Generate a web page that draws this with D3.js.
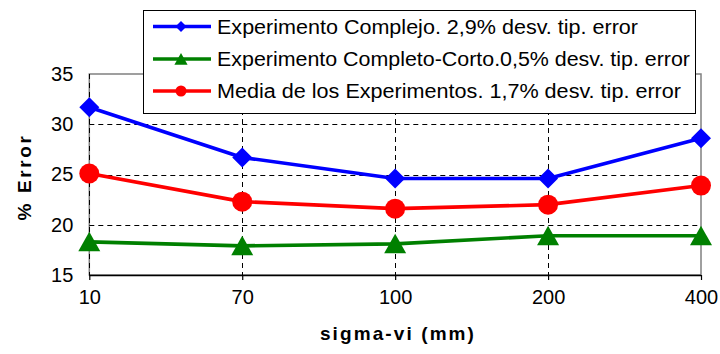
<!DOCTYPE html>
<html>
<head>
<meta charset="utf-8">
<script src="https://cdn.jsdelivr.net/npm/d3@7"></script>
<style>
  html, body { margin: 0; padding: 0; background: #fff; }
  svg { display: block; font-family: "Liberation Sans", Arial, sans-serif; }
</style>
</head>
<body>
<svg id="chart" width="720" height="354"></svg>
<script>
// sigma-vi categories (mm)
const categories = ["10", "70", "100", "200", "400"];

// % error per experiment
const complejo = [31.7, 26.7, 24.6, 24.6, 28.6];
const completoCorto = [18.3, 17.9, 18.1, 18.9, 18.9];
const media = [25.1, 22.3, 21.6, 22.0, 23.9];

const seriesNames = [
  "Experimento Complejo. 2,9% desv. tip. error",
  "Experimento Completo-Corto.0,5% desv. tip. error",
  "Media de los Experimentos. 1,7% desv. tip. error"
];

const yTicks = [15, 20, 25, 30, 35];
const yGrid = [20, 25, 30];

const series = [
  { name: seriesNames[0], values: complejo, color: "#0000ff", marker: "diamond" },
  { name: seriesNames[1], values: completoCorto, color: "#008000", marker: "triangle" },
  { name: seriesNames[2], values: media, color: "#ff0000", marker: "circle" }
];

const svg = d3.select("#chart");
const plotLeft = 89.3, plotRight = 701, plotTop = 74, plotBottom = 275;

const x = d3.scalePoint().domain(categories).range([plotLeft, plotRight]).padding(0);
const y = d3.scaleLinear().domain([15, 35]).range([plotBottom, plotTop]);

// plot area border
svg.append("rect")
  .attr("x", plotLeft).attr("y", plotTop)
  .attr("width", plotRight - plotLeft).attr("height", plotBottom - plotTop)
  .attr("fill", "none").attr("stroke", "#808080").attr("stroke-width", 1.5);

// dashed gridlines
svg.append("g").selectAll("line").data(yGrid).join("line")
  .attr("x1", plotLeft).attr("x2", plotRight)
  .attr("y1", d => Math.round(y(d)) + 0.5).attr("y2", d => Math.round(y(d)) + 0.5)
  .attr("stroke", "#000").attr("stroke-width", 1).attr("stroke-dasharray", "5,4");

svg.append("g").selectAll("line").data(categories.slice(0, -1)).join("line")
  .attr("x1", d => Math.round(x(d)) + 0.5).attr("x2", d => Math.round(x(d)) + 0.5)
  .attr("y1", plotTop).attr("y2", plotBottom)
  .attr("stroke", "#000").attr("stroke-width", 1).attr("stroke-dasharray", "5,4");

// x axis
const xAxis = svg.append("g")
  .attr("transform", `translate(0,${plotBottom})`)
  .call(d3.axisBottom(x).tickSize(5).tickPadding(10));
xAxis.select(".domain").attr("stroke", "#000").attr("stroke-width", 1.5).attr("d", `M${plotLeft},0.5H${plotRight}`);
xAxis.selectAll(".tick line").attr("stroke", "#000").attr("stroke-width", 1.2);
xAxis.selectAll(".tick text")
  .attr("font-size", 20).attr("font-family", "Liberation Sans, Arial, sans-serif")
  .attr("fill", "#000");

// y axis labels
const yAxis = svg.append("g")
  .attr("transform", `translate(${plotLeft},0)`)
  .call(d3.axisLeft(y).tickValues(yTicks).tickSize(0).tickPadding(16));
yAxis.select(".domain").remove();
yAxis.selectAll(".tick text")
  .attr("font-size", 20).attr("font-family", "Liberation Sans, Arial, sans-serif")
  .attr("fill", "#000");

// axis titles
svg.append("text")
  .attr("transform", "translate(31,177) rotate(-90)")
  .attr("text-anchor", "middle")
  .attr("font-size", 19).attr("font-weight", "bold")
  .attr("letter-spacing", 2.6)
  .text("% Error");

svg.append("text")
  .attr("x", 398).attr("y", 340)
  .attr("text-anchor", "middle")
  .attr("font-size", 19).attr("font-weight", "bold")
  .attr("letter-spacing", 2.1)
  .text("sigma-vi (mm)");

// marker helper
function drawMarker(g, kind, cx, cy, s, color) {
  if (kind === "diamond") {
    g.append("path").attr("d", `M${cx},${cy - s}L${cx + s},${cy}L${cx},${cy + s}L${cx - s},${cy}Z`).attr("fill", color);
  } else if (kind === "triangle") {
    const w = s * 1.1, h = s;
    g.append("path").attr("d", `M${cx},${cy - h}L${cx + w},${cy + h * 0.95}L${cx - w},${cy + h * 0.95}Z`).attr("fill", color);
  } else {
    g.append("circle").attr("cx", cx).attr("cy", cy).attr("r", s).attr("fill", color);
  }
}

// series lines and markers
const line = d3.line().x((d, i) => x(categories[i])).y(d => y(d));
series.forEach(s => {
  svg.append("path").datum(s.values)
    .attr("d", line).attr("fill", "none")
    .attr("stroke", s.color).attr("stroke-width", 3.6).attr("stroke-linejoin", "round");
  const g = svg.append("g");
  s.values.forEach((v, i) => drawMarker(g, s.marker, x(categories[i]), y(v), 10, s.color));
});

// legend
const legend = svg.append("g");
legend.append("rect")
  .attr("x", 143.5).attr("y", 10.5).attr("width", 552).attr("height", 103)
  .attr("fill", "#fff").attr("stroke", "#000").attr("stroke-width", 1);
const rowY = [26.5, 59, 91];
const textWidths = [421, 473, 464];
series.forEach((s, i) => {
  const cy = rowY[i];
  legend.append("line").attr("x1", 153).attr("x2", 211).attr("y1", cy).attr("y2", cy)
    .attr("stroke", s.color).attr("stroke-width", 3.4);
  drawMarker(legend, s.marker, 181, cy, s.marker === "triangle" ? 6 : 5.5, s.color);
  legend.append("text").attr("x", 217).attr("y", cy + 7)
    .attr("font-size", 20)
    .attr("textLength", textWidths[i]).attr("lengthAdjust", "spacingAndGlyphs")
    .text(s.name);
});
</script>
</body>
</html>
